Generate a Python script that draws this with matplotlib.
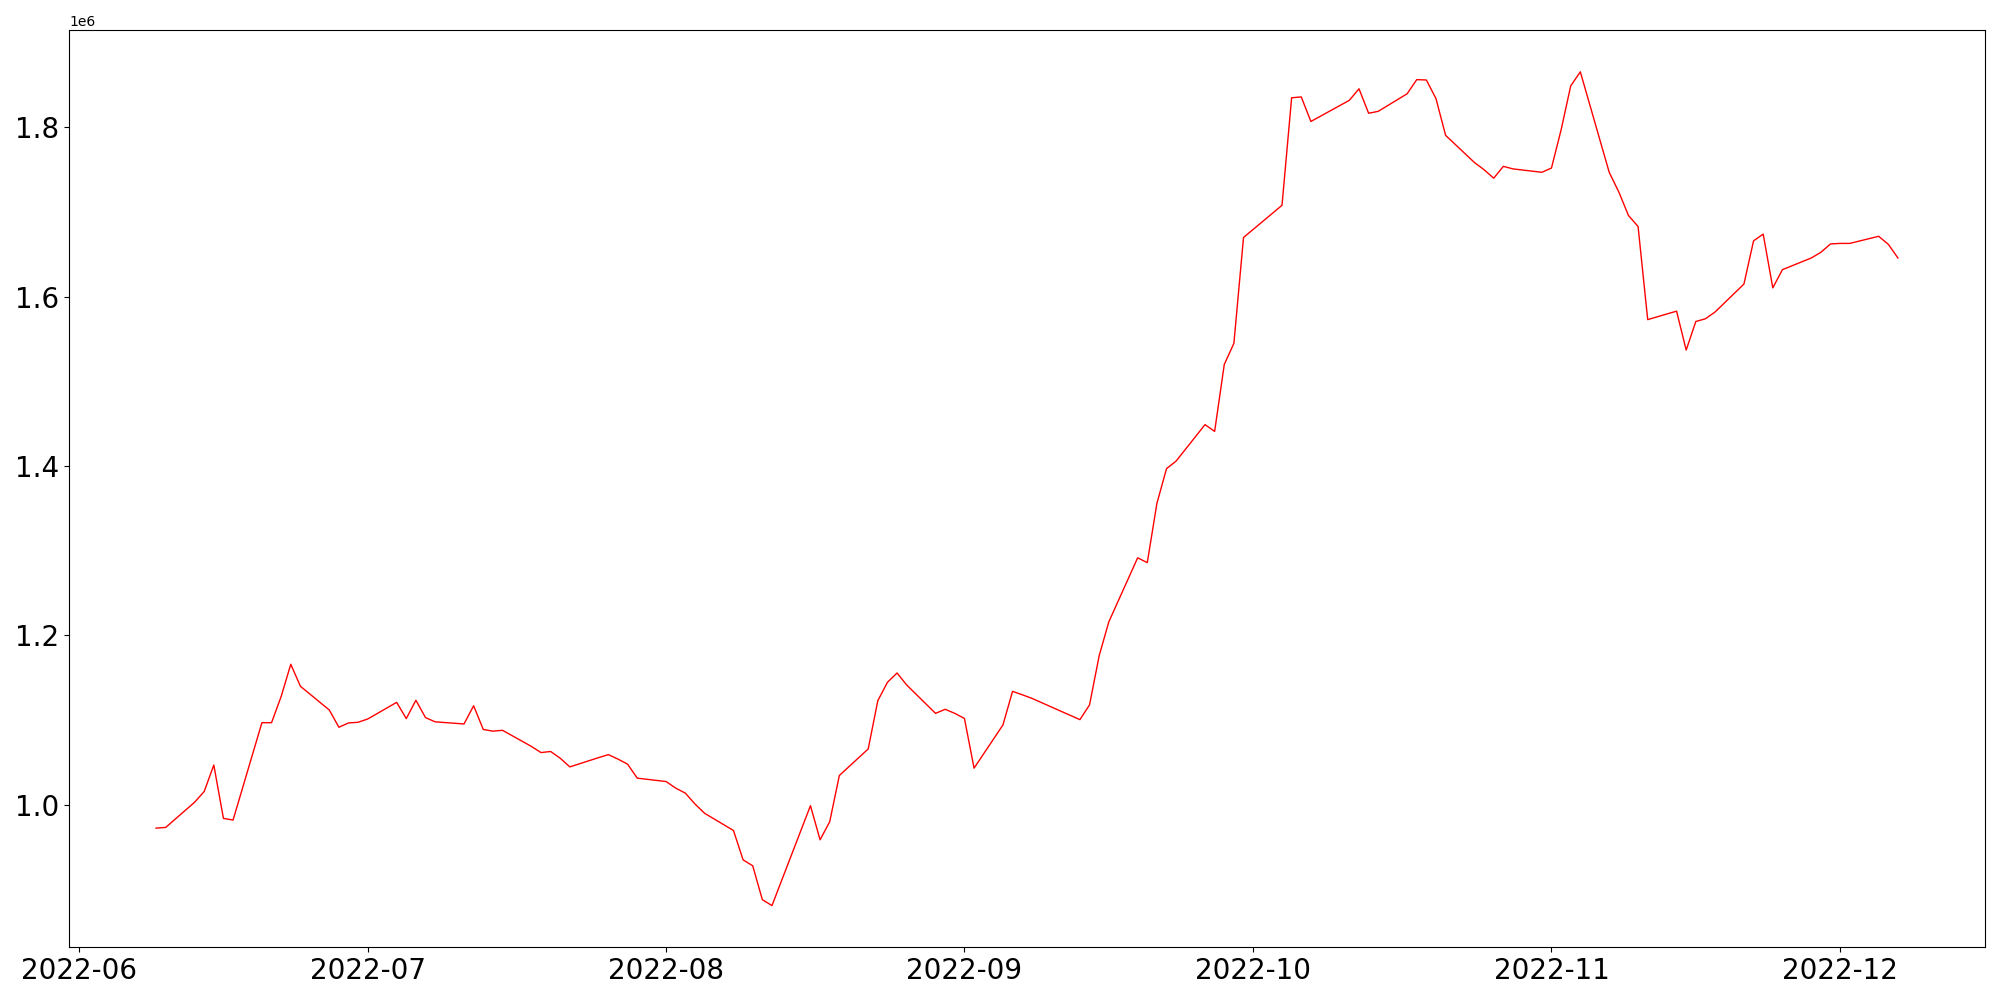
import pandas as pd
import matplotlib
matplotlib.use("Agg")
import matplotlib.pyplot as plt

# trading days (KRX holidays skipped)
holidays = ["2022-08-15", "2022-09-09", "2022-09-12", "2022-10-03", "2022-10-10"]
dates = pd.bdate_range("2022-06-09", "2022-12-07", freq="C", holidays=holidays)

jun = [972500, 973300, 1003000, 1015700, 1047000, 984000, 982000, 1097000,
       1097000, 1128000, 1166000, 1140000, 1112000, 1091600, 1096700, 1097500]
jul = [1101400, 1121000, 1101800, 1123500, 1103000, 1098000, 1095500, 1117000,
       1089000, 1087000, 1088000, 1069000, 1061700, 1063000, 1055000, 1044800,
       1055800, 1059300, 1054000, 1048000, 1031500]
aug = [1027500, 1019700, 1013800, 1001000, 990000, 969700, 935000, 928000,
       888000, 881000, 999000, 958700, 980000, 1034600, 1066000, 1123000,
       1144700, 1155700, 1141500, 1108000, 1112800, 1108000]
sep = [1102000, 1043300, 1094300, 1134000, 1130000, 1125800, 1100600, 1118000,
       1176000, 1216000, 1291700, 1286000, 1356000, 1397000, 1406000, 1449000,
       1441000, 1520000, 1545000, 1670000]
oct_ = [1708000, 1835000, 1836000, 1807000, 1832000, 1845600, 1816700, 1819000,
        1839700, 1856400, 1856000, 1834000, 1790600, 1758500, 1750000, 1740000,
        1754000, 1751000, 1747000]
nov = [1752000, 1797000, 1849000, 1865600, 1747000, 1723700, 1696000, 1683000,
       1573000, 1583000, 1537000, 1570800, 1574000, 1582000, 1615000, 1666000,
       1674000, 1610500, 1632000, 1645800, 1652500, 1662400]
dec = [1663000, 1663000, 1671400, 1662000, 1645800]

values = jun + jul + aug + sep + oct_ + nov + dec

fig, ax = plt.subplots(figsize=(20, 10), dpi=100)
ax.plot(dates, values, color="red", linewidth=1.0)
ax.tick_params(axis="both", labelsize=20)

plt.tight_layout()
plt.savefig("out.png")
